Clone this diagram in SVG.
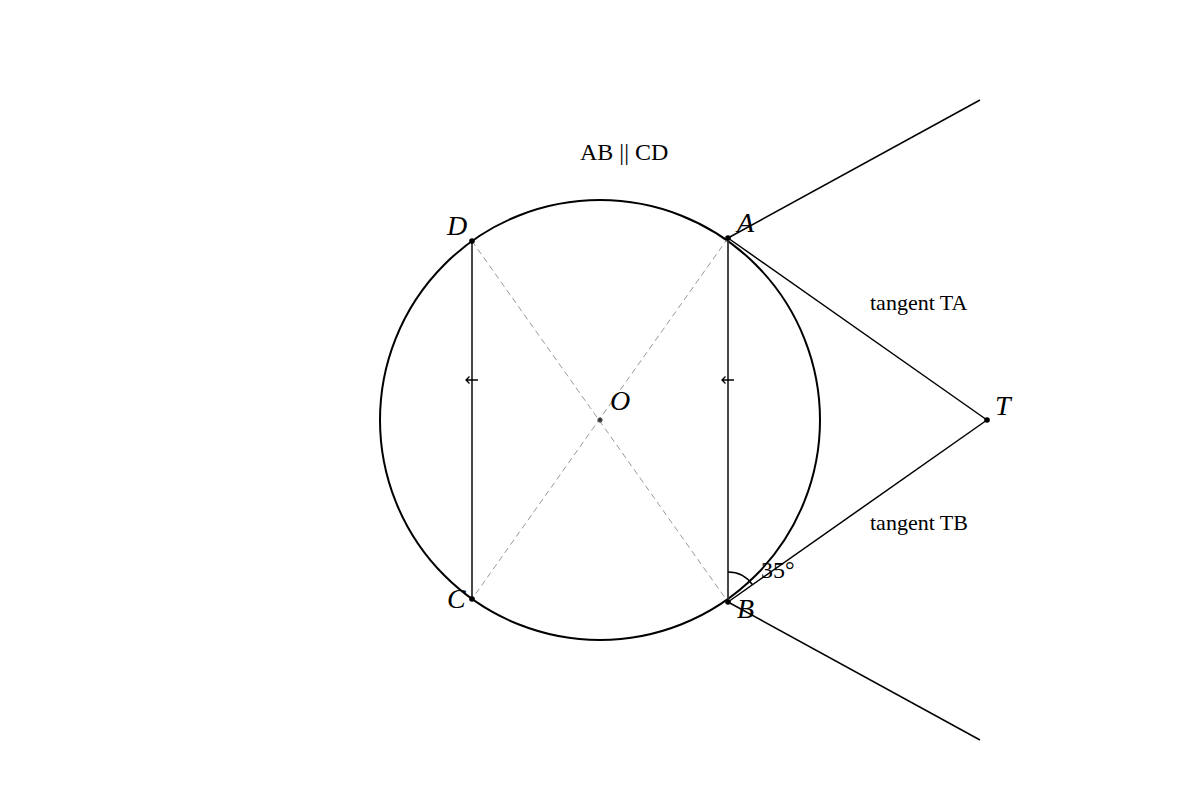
<svg xmlns="http://www.w3.org/2000/svg" width="1200" height="800" viewBox="0 0 1200 800">
<style>
.lbl{font-family:"Liberation Serif",serif;font-style:italic;font-size:28px;fill:#000}
.txt{font-family:"Liberation Serif",serif;font-size:22px;fill:#000}
.tan{stroke:#000;stroke-width:1.5;fill:none}
.chord{stroke:#333;stroke-width:1.8;fill:none}
.dash{stroke:#999;stroke-width:1;stroke-dasharray:6,4;fill:none}
.pt{fill:#000}
.arr{stroke:#000;stroke-width:1.3;fill:none}
</style>
<rect width="1200" height="800" fill="#fff"/>
<g id="circle"><circle cx="600" cy="420" r="220" fill="none" stroke="#000" stroke-width="2"/></g>
<g id="connectors">
<line class="dash" x1="472" y1="241" x2="728" y2="602"/>
<line class="dash" x1="728" y1="238" x2="472" y2="599"/>
<line class="chord" x1="472" y1="241" x2="472" y2="599"/>
<line class="chord" x1="728" y1="238" x2="728" y2="602"/>
<path class="arr" d="M478 380 H466 M469.5 376.5 L466 380 L469.5 383.5"/>
<path class="arr" d="M734 380 H722 M725.5 376.5 L722 380 L725.5 383.5"/>
<line class="tan" x1="980" y1="100" x2="728" y2="238"/>
<line class="tan" x1="728" y1="238" x2="987" y2="420"/>
<line class="tan" x1="987" y1="420" x2="728" y2="602"/>
<line class="tan" x1="728" y1="602" x2="980" y2="740"/>
<path class="tan" d="M728 572 A30 30 0 0 1 752.5 584.8"/>
</g>
<g id="A"><circle class="pt" cx="728" cy="238" r="2.8"/><text class="lbl" x="737" y="232">A</text></g>
<g id="B"><circle class="pt" cx="728" cy="602" r="2.8"/><text class="lbl" x="737" y="618">B</text></g>
<g id="C"><circle class="pt" cx="472" cy="599" r="2.8"/><text class="lbl" x="447" y="608">C</text></g>
<g id="D"><circle class="pt" cx="472" cy="241" r="2.8"/><text class="lbl" x="447" y="235">D</text></g>
<g id="O"><circle cx="600" cy="420" r="2.2" fill="#333" stroke="#555" stroke-width="1"/><text class="lbl" x="610" y="410">O</text></g>
<g id="T"><circle class="pt" cx="987" cy="420" r="2.8"/><text class="lbl" x="995" y="415">T</text></g>
<g id="labels">
<text class="txt" x="580" y="160" style="font-size:24px">AB || CD</text>
<text class="txt" x="870" y="310">tangent TA</text>
<text class="txt" x="870" y="530">tangent TB</text>
<text class="txt" x="761" y="578" style="font-size:24px">35°</text>
</g>
</svg>
